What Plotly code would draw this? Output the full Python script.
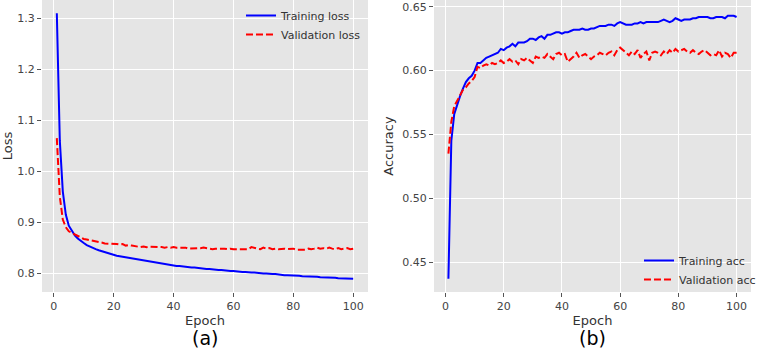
import plotly.graph_objects as go

epochs = list(range(1, 101))

train_loss = [
    1.310, 1.060, 0.960, 0.915, 0.893, 0.882, 0.874, 0.868, 0.863, 0.859,
    0.855, 0.852, 0.849, 0.847, 0.845, 0.843, 0.841, 0.839, 0.837, 0.835,
    0.834, 0.833, 0.832, 0.830, 0.829, 0.828, 0.827, 0.826, 0.825, 0.824,
    0.823, 0.822, 0.821, 0.820, 0.819, 0.818, 0.817, 0.817, 0.816, 0.815,
    0.814, 0.814, 0.813, 0.812, 0.812, 0.811, 0.811, 0.810, 0.809, 0.809,
    0.808, 0.808, 0.807, 0.807, 0.806, 0.806, 0.805, 0.805, 0.804, 0.804,
    0.803, 0.803, 0.802, 0.802, 0.801, 0.801, 0.801, 0.800, 0.800, 0.799,
    0.799, 0.798, 0.798, 0.798, 0.797, 0.797, 0.796, 0.796, 0.796, 0.795,
    0.795, 0.795, 0.794, 0.794, 0.794, 0.793, 0.793, 0.793, 0.792, 0.792,
    0.792, 0.791, 0.791, 0.791, 0.790, 0.790, 0.790, 0.789, 0.789, 0.789,
]

val_loss = [
    1.065, 0.950, 0.905, 0.890, 0.882, 0.879, 0.876, 0.872, 0.869, 0.867,
    0.866, 0.865, 0.863, 0.862, 0.861, 0.860, 0.858, 0.858, 0.858, 0.857,
    0.857, 0.856, 0.857, 0.854, 0.855, 0.854, 0.853, 0.852, 0.851, 0.852,
    0.851, 0.852, 0.852, 0.851, 0.852, 0.851, 0.850, 0.851, 0.850, 0.851,
    0.850, 0.850, 0.849, 0.850, 0.848, 0.848, 0.849, 0.848, 0.849, 0.850,
    0.849, 0.848, 0.847, 0.848, 0.848, 0.849, 0.848, 0.847, 0.848, 0.847,
    0.847, 0.848, 0.847, 0.848, 0.847, 0.851, 0.849, 0.848, 0.847, 0.850,
    0.848, 0.849, 0.847, 0.848, 0.847, 0.848, 0.848, 0.847, 0.847, 0.848,
    0.846, 0.846, 0.847, 0.846, 0.848, 0.847, 0.848, 0.850, 0.848, 0.849,
    0.848, 0.850, 0.848, 0.847, 0.849, 0.847, 0.848, 0.849, 0.847, 0.848,
]

train_acc = [
    0.437, 0.545, 0.566, 0.574, 0.580, 0.586, 0.591, 0.594, 0.596, 0.600,
    0.606, 0.606, 0.608, 0.610, 0.611, 0.612, 0.613, 0.614, 0.617, 0.616,
    0.618, 0.619, 0.621, 0.619, 0.622, 0.622, 0.622, 0.623, 0.625, 0.625,
    0.624, 0.626, 0.627, 0.625, 0.628, 0.628, 0.629, 0.630, 0.630, 0.629,
    0.630, 0.630, 0.631, 0.632, 0.632, 0.632, 0.633, 0.632, 0.632, 0.633,
    0.633, 0.634, 0.635, 0.635, 0.635, 0.636, 0.636, 0.635, 0.637, 0.638,
    0.637, 0.636, 0.636, 0.636, 0.637, 0.637, 0.638, 0.637, 0.638, 0.638,
    0.638, 0.638, 0.638, 0.639, 0.640, 0.639, 0.638, 0.639, 0.641, 0.640,
    0.639, 0.640, 0.640, 0.640, 0.641, 0.641, 0.642, 0.642, 0.642, 0.642,
    0.641, 0.641, 0.642, 0.642, 0.642, 0.641, 0.643, 0.643, 0.643, 0.642,
]

val_acc = [
    0.535, 0.560, 0.572, 0.576, 0.580, 0.585, 0.587, 0.590, 0.592, 0.595,
    0.603, 0.602, 0.604, 0.605, 0.604, 0.606, 0.605, 0.606, 0.608, 0.606,
    0.607, 0.609, 0.607, 0.608, 0.605, 0.609, 0.608, 0.610, 0.608, 0.606,
    0.611, 0.610, 0.611, 0.610, 0.613, 0.611, 0.609, 0.613, 0.614, 0.612,
    0.613, 0.607, 0.609, 0.611, 0.614, 0.610, 0.612, 0.613, 0.611, 0.609,
    0.611, 0.612, 0.614, 0.613, 0.612, 0.614, 0.615, 0.612, 0.616, 0.618,
    0.616, 0.614, 0.612, 0.615, 0.613, 0.616, 0.610, 0.613, 0.615, 0.608,
    0.614, 0.615, 0.614, 0.612, 0.615, 0.613, 0.616, 0.614, 0.617, 0.615,
    0.616, 0.617, 0.615, 0.614, 0.616, 0.614, 0.613, 0.615, 0.616, 0.614,
    0.612, 0.613, 0.612, 0.616, 0.611, 0.614, 0.613, 0.610, 0.614, 0.614,
]

x_ticks = [0, 20, 40, 60, 80, 100]
loss_ticks = [0.8, 0.9, 1.0, 1.1, 1.2, 1.3]
loss_tick_labels = ["0.8", "0.9", "1.0", "1.1", "1.2", "1.3"]
acc_ticks = [0.45, 0.50, 0.55, 0.60, 0.65]
acc_tick_labels = ["0.45", "0.50", "0.55", "0.60", "0.65"]

W, H = 762, 348
FONT = "DejaVu Sans"
BLUE = "#0000FF"
RED = "#FF0000"

fig = go.Figure()
fig.add_trace(go.Scatter(x=epochs, y=train_loss, mode="lines", name="Training loss",
                         line=dict(color=BLUE, width=2), xaxis="x", yaxis="y", legend="legend"))
fig.add_trace(go.Scatter(x=epochs, y=val_loss, mode="lines", name="Validation loss",
                         line=dict(color=RED, width=2, dash="7px,3px"), xaxis="x", yaxis="y", legend="legend"))
fig.add_trace(go.Scatter(x=epochs, y=train_acc, mode="lines", name="Training acc",
                         line=dict(color=BLUE, width=2), xaxis="x2", yaxis="y2", legend="legend2"))
fig.add_trace(go.Scatter(x=epochs, y=val_acc, mode="lines", name="Validation acc",
                         line=dict(color=RED, width=2, dash="7px,3px"), xaxis="x2", yaxis="y2", legend="legend2"))

ybot = (H - 292) / H
ytop = 1.0

common_axis = dict(
    showgrid=True, gridcolor="white", gridwidth=1.3, zeroline=False, showline=False,
    ticks="outside", ticklen=4, tickwidth=1, tickcolor="#555555", automargin=False,
    tickfont=dict(family=FONT, size=11, color="#444444"),
    title_font=dict(family=FONT, size=13, color="#333333"),
)

fig.update_layout(
    width=W, height=H,
    margin=dict(l=0, r=0, t=0, b=0, autoexpand=False),
    paper_bgcolor="white",
    plot_bgcolor="#E5E5E5",
    showlegend=True,
    xaxis=dict(domain=[42 / W, 368 / W], anchor="y", range=[-3.95, 104.95],
               tickvals=x_ticks, title=dict(text="Epoch", standoff=3), **common_axis),
    yaxis=dict(domain=[ybot, ytop], anchor="x", range=[0.7629, 1.3361],
               tickvals=loss_ticks, ticktext=loss_tick_labels,
               title=dict(text="Loss", standoff=5), **common_axis),
    xaxis2=dict(domain=[434 / W, 751 / W], anchor="y2", range=[-3.95, 104.95],
                tickvals=x_ticks, title=dict(text="Epoch", standoff=3), **common_axis),
    yaxis2=dict(domain=[ybot, ytop], anchor="x2", range=[0.4267, 0.6553],
                tickvals=acc_ticks, ticktext=acc_tick_labels,
                title=dict(text="Accuracy", standoff=5), **common_axis),
    legend=dict(x=241 / W, y=1 - 1 / H, xanchor="left", yanchor="top",
                bgcolor="rgba(0,0,0,0)", font=dict(family=FONT, size=11, color="#333333"),
                tracegroupgap=0, itemwidth=30),
    legend2=dict(x=761 / W, y=1 - 246 / H, xanchor="right", yanchor="top",
                 bgcolor="rgba(0,0,0,0)", font=dict(family=FONT, size=11, color="#333333"),
                 tracegroupgap=0, itemwidth=30),
    annotations=[
        dict(text="(a)", x=(42 + 368) / 2 / W, y=(H - 338) / H, xref="paper", yref="paper",
             showarrow=False, xanchor="center", yanchor="middle",
             font=dict(family=FONT, size=19, color="black")),
        dict(text="(b)", x=(434 + 751) / 2 / W, y=(H - 338) / H, xref="paper", yref="paper",
             showarrow=False, xanchor="center", yanchor="middle",
             font=dict(family=FONT, size=19, color="black")),
    ],
)

fig.write_html(
    "out.html",
    config={"displayModeBar": False},
    post_script="document.body.style.margin='0';document.body.style.padding='0';"
                "document.body.style.overflow='hidden';",
)
